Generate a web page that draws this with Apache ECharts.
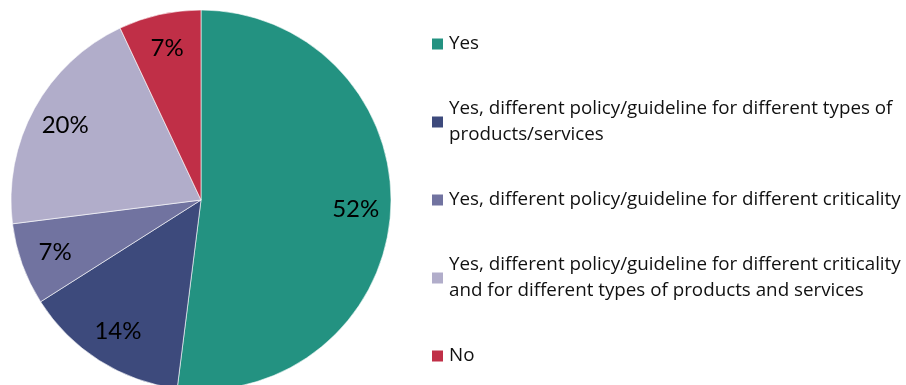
<!DOCTYPE html>
<html>
<head>
<meta charset="utf-8">
<script src="https://cdn.jsdelivr.net/npm/echarts@6/dist/echarts.min.js"></script>
<style>
  html, body { margin: 0; padding: 0; background: #fff; }
  #chart { width: 906px; height: 385px; }
</style>
</head>
<body>
<div id="chart"></div>
<script>
const categories = [
  'Yes',
  'Yes, different policy/guideline for different types of products/services',
  'Yes, different policy/guideline for different criticality',
  'Yes, different policy/guideline for different criticality and for different types of products and services',
  'No'
]
const values = [52, 14, 7, 20, 7]
const colors = ['#239281', '#3d4a7c', '#7173a0', '#b1adca', '#c02f47']

// where the legend text wraps onto a second line
const legendLines = {
  [categories[1]]: 'Yes, different policy/guideline for different types of\nproducts/services',
  [categories[3]]: 'Yes, different policy/guideline for different criticality\nand for different types of products and services'
}

const chart = echarts.init(document.getElementById('chart'))

const pieData = categories.map((name, i) => ({
  name,
  value: values[i],
  itemStyle: { color: colors[i] }
}))

chart.setOption({
  animation: false,
  color: colors,
  legend: {
    orient: 'vertical',
    left: 425,
    top: 26,
    icon: 'rect',
    itemWidth: 13,
    itemHeight: 13,
    itemGap: 26,
    selectedMode: false,
    data: categories.map(name => legendLines[name]
      ? { name, textStyle: { padding: [26, 0, 0, 0] } }
      : { name }),
    formatter (name) {
      return legendLines[name] || name
    },
    textStyle: {
      fontFamily: 'Open Sans',
      fontSize: 18.8,
      lineHeight: 26,
      color: '#111'
    }
  },
  series: [
    {
      type: 'pie',
      center: [201, 200],
      radius: [0, 190],
      startAngle: 90,
      clockwise: true,
      label: { show: false },
      labelLine: { show: false },
      emphasis: { disabled: true },
      itemStyle: { borderColor: '#fff', borderWidth: 0.6 },
      data: pieData
    },
    {
      // transparent ring used only to place the percentage labels near the rim
      type: 'pie',
      center: [201, 200],
      radius: [114, 190],
      startAngle: 90,
      clockwise: true,
      silent: true,
      emphasis: { disabled: true },
      itemStyle: { color: 'rgba(0,0,0,0)' },
      label: {
        show: true,
        position: 'inside',
        formatter: '{c}%',
        fontFamily: 'Lato',
        fontSize: 24,
        color: '#000'
      },
      labelLine: { show: false },
      data: categories.map((name, i) => ({ name, value: values[i] }))
    }
  ]
})
</script>
</body>
</html>
